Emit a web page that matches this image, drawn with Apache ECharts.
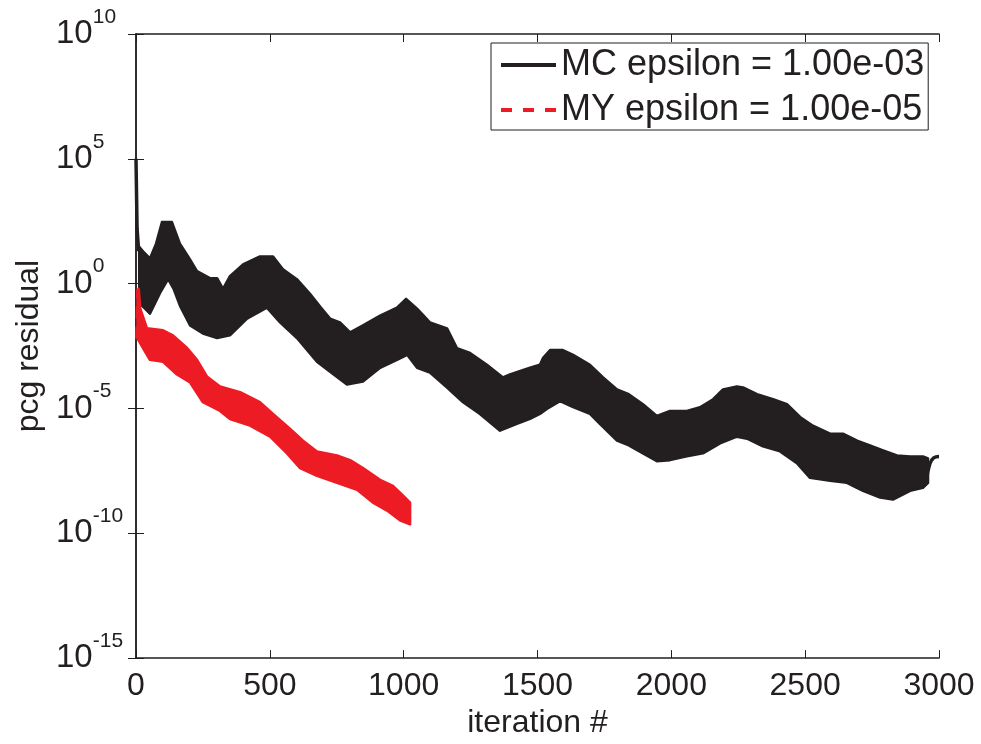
<!DOCTYPE html>
<html>
<head>
<meta charset="utf-8">
<title>pcg residual</title>
<script src="https://cdn.jsdelivr.net/npm/echarts@6/dist/echarts.min.js"></script>
<style>
  html, body { margin: 0; padding: 0; background: #fff; }
  #chart { width: 981px; height: 744px; }
</style>
</head>
<body>
<div id="chart"></div>
<script>
// [iteration, log10(residual)]: upper / lower edge of each noisy band
var mcUpper = [[12, 1.48], [30, 1.25], [52, 1.01], [75, 1.60], [97, 2.47], [134, 2.47], [164, 1.60], [200, 1.0],
  [228, 0.50], [276, 0.22], [303, 0.22], [325, -0.21], [351, 0.30], [400, 0.77], [463, 1.09], [512, 1.09],
  [549, 0.58], [601, 0.18], [650, -0.41], [690, -0.95], [725, -1.40], [762, -1.55], [800, -1.95], [848, -1.67],
  [912, -1.28], [975, -0.96], [1009, -0.61], [1050, -1.00], [1098, -1.55], [1162, -1.79], [1199, -2.58],
  [1248, -2.78], [1311, -3.25], [1371, -3.76], [1397, -3.64], [1472, -3.37], [1509, -3.25], [1521, -2.97],
  [1547, -2.66], [1595, -2.66], [1633, -2.85], [1696, -3.25], [1745, -3.76], [1797, -4.24], [1841, -4.43],
  [1894, -4.83], [1946, -5.30], [1995, -5.10], [2058, -5.10], [2107, -4.95], [2156, -4.63], [2193, -4.24],
  [2245, -4.12], [2268, -4.16], [2320, -4.43], [2380, -4.63], [2432, -4.83], [2481, -5.34], [2529, -5.69],
  [2593, -6.01], [2641, -6.01], [2694, -6.29], [2742, -6.48], [2791, -6.68], [2843, -6.88], [2892, -6.92],
  [2940, -6.92], [2959, -7.0]];
var mcLower = [[12, -0.77], [52, -1.20], [90, -0.37], [120, 0.18], [140, -0.2], [164, -0.88], [202, -1.67],
  [250, -2.0], [303, -2.18], [351, -2.07], [415, -1.40], [489, -0.96], [538, -1.55], [601, -2.18], [676, -3.13],
  [725, -3.53], [788, -4.04], [848, -3.92], [912, -3.37], [975, -3.05], [1013, -2.85], [1050, -3.37],
  [1098, -3.56], [1162, -4.16], [1222, -4.75], [1285, -5.22], [1360, -5.89], [1423, -5.62], [1472, -5.42],
  [1509, -5.22], [1535, -5.02], [1584, -4.71], [1633, -4.95], [1696, -5.22], [1733, -5.62], [1797, -6.29],
  [1841, -6.48], [1894, -6.80], [1946, -7.11], [1995, -7.07], [2058, -6.92], [2118, -6.80], [2182, -6.40],
  [2245, -6.13], [2283, -6.21], [2342, -6.52], [2406, -6.72], [2469, -7.19], [2518, -7.78], [2593, -7.90],
  [2656, -7.98], [2716, -8.30], [2780, -8.57], [2828, -8.65], [2892, -8.30], [2940, -8.18], [2959, -7.98]];
var mcStart = [[0, 5.0], [4, 2.2], [10, 1.3]];
var mcEnd = [[2955, -7.78], [2965, -7.25], [2980, -6.98], [3000, -6.92]];

var myUpper = [[6, -0.3], [10, -0.21], [16, -1.0], [41, -1.79], [101, -1.87], [138, -2.07], [191, -2.58],
  [228, -3.05], [265, -3.72], [314, -4.12], [389, -4.35], [463, -4.75], [512, -5.22], [575, -5.81],
  [624, -6.29], [676, -6.72], [751, -6.88], [800, -7.07], [848, -7.39], [912, -7.86], [960, -8.10],
  [998, -8.49], [1024, -8.77]];
var myLower = [[6, -2.2], [26, -2.58], [52, -3.05], [101, -3.13], [153, -3.64], [202, -3.96], [250, -4.75],
  [314, -5.10], [351, -5.42], [426, -5.69], [501, -6.13], [564, -6.80], [613, -7.39], [676, -7.70],
  [751, -7.98], [826, -8.26], [885, -8.77], [938, -9.09], [986, -9.48], [1024, -9.64]];
var myStart = [[4, -2.2], [8, -0.21]];

var xTicks = [0, 500, 1000, 1500, 2000, 2500, 3000];
var yTickExps = [-15, -10, -5, 0, 5, 10];

var mcName = 'MC epsilon = 1.00e-03';
var myName = 'MY epsilon = 1.00e-05';
var ink = '#231f20';
var red = '#ed1c24';
var font = 'Liberation Sans, Arial, Helvetica, sans-serif';

function toPts(arr) {
  return arr.map(function (p) { return [p[0], Math.pow(10, p[1])]; });
}

function band(upper, lower, color) {
  return function (params, api) {
    var pts = [];
    upper.forEach(function (p) { pts.push(api.coord([p[0], Math.pow(10, p[1])])); });
    for (var i = lower.length - 1; i >= 0; i--) {
      pts.push(api.coord([lower[i][0], Math.pow(10, lower[i][1])]));
    }
    return {
      type: 'polygon',
      shape: { points: pts },
      style: { fill: color, stroke: color, lineWidth: 2.5, lineJoin: 'round' }
    };
  };
}

var xMin = xTicks[0], xMax = xTicks[xTicks.length - 1];
var yMin = Math.pow(10, yTickExps[0]), yMax = Math.pow(10, yTickExps[yTickExps.length - 1]);

var xBase = {
  type: 'value', min: xMin, max: xMax, interval: xTicks[1] - xTicks[0],
  axisLine: { lineStyle: { color: ink, width: 1.5 } },
  axisTick: { inside: true, length: 8, lineStyle: { color: ink, width: 1 } },
  splitLine: { show: false }
};
var yBase = {
  type: 'log', logBase: 10, min: yMin, max: yMax, interval: yTickExps[1] - yTickExps[0],
  axisLine: { show: true, lineStyle: { color: ink, width: 1.5 } },
  axisTick: { show: true, inside: true, length: 8, lineStyle: { color: ink, width: 1 } },
  splitLine: { show: false },
  minorTick: { show: false }
};

var option = {
  animation: false,
  backgroundColor: '#fff',
  grid: { left: 136, right: 42, top: 34, bottom: 76, containLabel: false },
  legend: {
    data: [
      { name: mcName, icon: 'path://M0,0h55v4h-55z' },
      { name: myName, icon: 'path://M0,0h11v4h-11zM22,0h11v4h-11zM44,0h11v4h-11z' }
    ],
    orient: 'vertical',
    left: 491,
    top: 43,
    itemWidth: 55,
    itemHeight: 4,
    itemGap: 9,
    padding: [4, 4, 2, 10],
    borderColor: ink,
    borderWidth: 1,
    backgroundColor: '#fff',
    textStyle: { fontSize: 36, fontFamily: font, color: ink }
  },
  xAxis: [
    Object.assign({}, xBase, {
      position: 'bottom',
      name: 'iteration #',
      nameLocation: 'middle',
      nameGap: 42,
      nameTextStyle: { fontSize: 32, fontFamily: font, color: ink },
      axisLabel: {
        fontSize: 32, fontFamily: font, color: ink, margin: 12,
        formatter: function (v) { return String(v); }
      }
    }),
    Object.assign({}, xBase, { position: 'top', axisLabel: { show: false } })
  ],
  yAxis: [
    Object.assign({}, yBase, {
      position: 'left',
      name: 'pcg residual',
      nameLocation: 'middle',
      nameGap: 90,
      nameTextStyle: { fontSize: 32, fontFamily: font, color: ink },
      axisLabel: {
        margin: 80,
        align: 'left',
        color: ink,
        formatter: function (v) {
          var e = Math.round(Math.log10(v));
          return '{b|10}{s|' + e + '}';
        },
        rich: {
          b: { fontSize: 33, fontFamily: font, color: ink },
          s: { fontSize: 21, fontFamily: font, color: ink, padding: [0, 0, 34, 0] }
        }
      }
    }),
    Object.assign({}, yBase, { position: 'right', axisLabel: { show: false } })
  ],
  series: [
    {
      name: 'mcBand', type: 'custom', data: [[0, 1]], silent: true, clip: true,
      renderItem: band(mcUpper, mcLower, ink), z: 2
    },
    {
      name: mcName, type: 'line', data: toPts(mcStart), symbol: 'none',
      lineStyle: { color: ink, width: 3.5 }, itemStyle: { color: ink }, z: 3
    },
    {
      name: mcName, type: 'line', data: toPts(mcEnd), symbol: 'none', smooth: true,
      lineStyle: { color: ink, width: 3.5 }, itemStyle: { color: ink }, z: 3
    },
    {
      name: 'myBand', type: 'custom', data: [[0, 1]], silent: true, clip: true,
      renderItem: band(myUpper, myLower, red), z: 4
    },
    {
      name: myName, type: 'line', data: toPts(myStart), symbol: 'none',
      lineStyle: { color: red, width: 4, type: [12, 8] }, itemStyle: { color: red }, z: 5
    }
  ]
};

var chart = echarts.init(document.getElementById('chart'), null, { renderer: 'canvas' });
chart.setOption(option);
</script>
</body>
</html>
